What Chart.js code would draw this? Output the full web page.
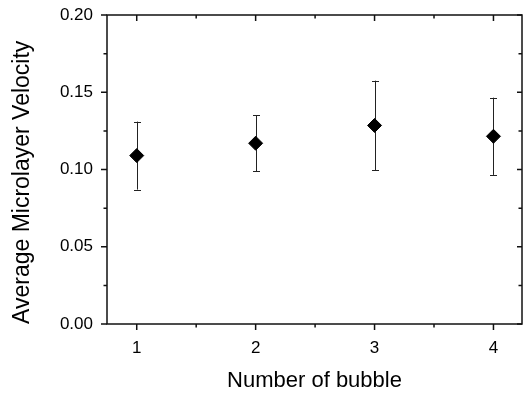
<!DOCTYPE html>
<html>
<head>
<meta charset="utf-8">
<script src="https://cdn.jsdelivr.net/npm/chart.js@4"></script>
<style>
  body { margin: 0; background: #fff; overflow: hidden; }
  #wrap { width: 525px; height: 397px; overflow: hidden; }
</style>
</head>
<body>
<!-- canvas is a bit wider than the page: Chart.js keeps ~5px on the right that the figure doesn't have -->
<div id="wrap"><canvas id="velocityChart" width="530" height="397"></canvas></div>
<script>
// data
const bubbleCount = [1, 2, 3, 4];
const meanVelocity = [0.109, 0.117, 0.1285, 0.1215];
const velocityError = [0.022, 0.018, 0.029, 0.025];
const xTicks = [1, 2, 3, 4];
const xMinorTicks = [1.5, 2.5, 3.5];
const yTicks = [0, 0.05, 0.1, 0.15, 0.2];
const yMinorTicks = [0.025, 0.075, 0.125, 0.175];

const FONT = 'Liberation Sans, Arial, sans-serif';

// frame, ticks and error bars, drawn through the scales
const framePlugin = {
  id: 'frame',
  beforeDatasetsDraw(chart) {
    const ctx = chart.ctx;
    const x = chart.scales.x, y = chart.scales.y;
    ctx.save();
    ctx.strokeStyle = '#222';
    ctx.lineWidth = 1;
    bubbleCount.forEach((b, i) => {
      const px = Math.round(x.getPixelForValue(b)) + 0.5;
      const top = y.getPixelForValue(meanVelocity[i] + velocityError[i]);
      const bot = y.getPixelForValue(meanVelocity[i] - velocityError[i]);
      ctx.beginPath();
      ctx.moveTo(px, top); ctx.lineTo(px, bot);
      ctx.moveTo(px - 3.5, Math.round(top) + 0.5); ctx.lineTo(px + 3.5, Math.round(top) + 0.5);
      ctx.moveTo(px - 3.5, Math.round(bot) + 0.5); ctx.lineTo(px + 3.5, Math.round(bot) + 0.5);
      ctx.stroke();
    });
    ctx.restore();
  },
  afterDraw(chart) {
    const ctx = chart.ctx;
    const a = chart.chartArea;
    const x = chart.scales.x, y = chart.scales.y;
    ctx.save();
    ctx.strokeStyle = '#111';
    ctx.lineWidth = 1.5;
    ctx.strokeRect(a.left, a.top, a.right - a.left, a.bottom - a.top);
    ctx.beginPath();
    xTicks.forEach(v => {
      const p = x.getPixelForValue(v);
      ctx.moveTo(p, a.bottom); ctx.lineTo(p, a.bottom + 6);
      ctx.moveTo(p, a.top); ctx.lineTo(p, a.top + 6);
    });
    xMinorTicks.forEach(v => {
      const p = x.getPixelForValue(v);
      ctx.moveTo(p, a.bottom); ctx.lineTo(p, a.bottom + 3.5);
      ctx.moveTo(p, a.top); ctx.lineTo(p, a.top + 3.5);
    });
    yTicks.forEach(v => {
      const p = y.getPixelForValue(v);
      ctx.moveTo(a.left, p); ctx.lineTo(a.left - 6, p);
      ctx.moveTo(a.right, p); ctx.lineTo(a.right - 5, p);
    });
    yMinorTicks.forEach(v => {
      const p = y.getPixelForValue(v);
      ctx.moveTo(a.left, p); ctx.lineTo(a.left - 3.5, p);
      ctx.moveTo(a.right, p); ctx.lineTo(a.right - 3.5, p);
    });
    ctx.stroke();
    ctx.restore();
  }
};

new Chart(document.getElementById('velocityChart'), {
  type: 'scatter',
  data: {
    datasets: [{
      label: 'Average Microlayer Velocity',
      data: bubbleCount.map((b, i) => ({ x: b, y: meanVelocity[i] })),
      pointStyle: 'rectRot',
      pointRadius: 7,
      backgroundColor: '#000',
      borderColor: '#000',
      borderWidth: 1
    }]
  },
  options: {
    responsive: false,
    animation: false,
    layout: { padding: { top: 15, right: 1.5, left: 0, bottom: 0 } },
    plugins: { legend: { display: false }, tooltip: { enabled: false } },
    scales: {
      x: {
        type: 'linear',
        min: 0.75,
        max: 4.24,
        afterBuildTicks: s => { s.ticks = xTicks.map(v => ({ value: v })); },
        afterFit: s => { s.height = 73; s.paddingLeft = 0; s.paddingRight = 0; },
        grid: { display: false, drawTicks: false },
        border: { display: false },
        ticks: { color: '#000', padding: 14, font: { family: FONT, size: 17 } },
        title: {
          display: true,
          text: 'Number of bubble',
          color: '#000',
          padding: { top: 0, bottom: 3 },
          font: { family: FONT, size: 22 }
        }
      },
      y: {
        min: 0,
        max: 0.2,
        afterBuildTicks: s => { s.ticks = yTicks.map(v => ({ value: v })); },
        afterFit: s => { s.width = 107; s.paddingTop = 0; s.paddingBottom = 0; },
        grid: { display: false, drawTicks: false },
        border: { display: false },
        ticks: {
          color: '#000',
          padding: 14,
          font: { family: FONT, size: 17 },
          callback: v => v.toFixed(2)
        },
        title: {
          display: true,
          text: 'Average Microlayer Velocity',
          align: 'start',
          color: '#000',
          padding: { top: 9, bottom: 0 },
          font: { family: FONT, size: 23 }
        }
      }
    }
  },
  plugins: [framePlugin]
});
</script>
</body>
</html>
